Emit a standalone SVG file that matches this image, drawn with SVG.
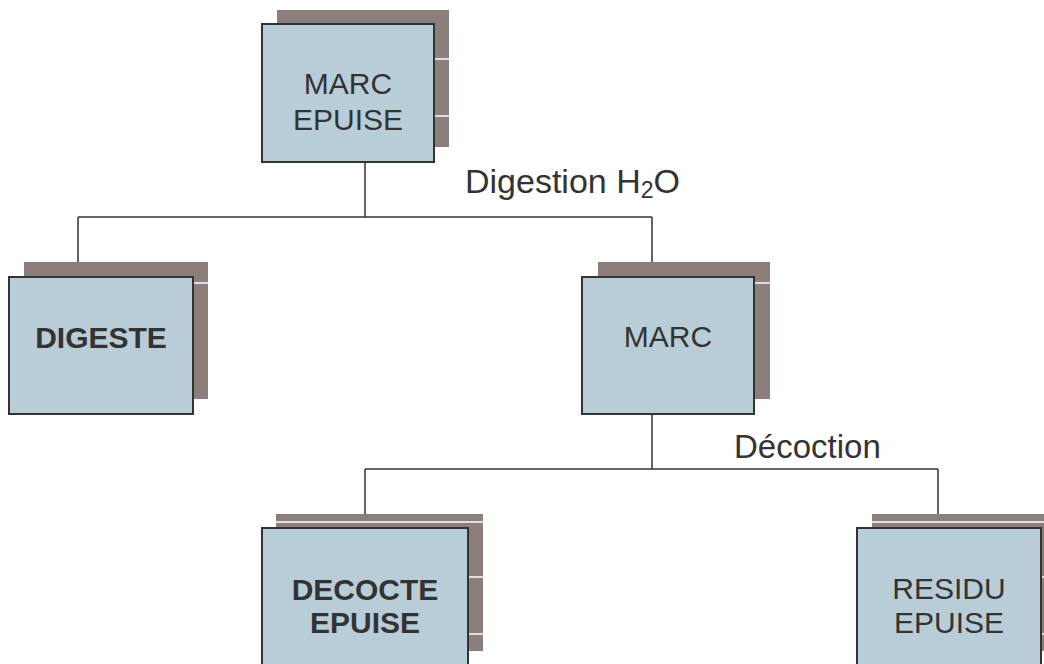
<svg xmlns="http://www.w3.org/2000/svg" width="1044" height="664" viewBox="0 0 1044 664">
<style>
.sh{fill:#8c7e7a}
.bx{fill:#b9cdd8;stroke:#333333;stroke-width:2}
.wl{stroke:#ffffff;stroke-width:1.5}
.t{font-family:"Liberation Sans",Arial,sans-serif;font-size:30px;fill:#333333;text-anchor:middle}
.b{font-weight:bold}
.lab{font-family:"Liberation Sans",Arial,sans-serif;font-size:33px;fill:#333333}
.c{stroke:#333333;stroke-width:1.5;fill:none}
</style>
<rect width="1044" height="664" fill="#ffffff"/>
<g id="connectors">
<path class="c" d="M365 162 V217 M78 217 H652 M78 217 V277 M652 217 V277"/>
<path class="c" d="M652 414 V469 M365 469 H938 M365 469 V528 M938 469 V528"/>
</g>
<g id="n1">
<rect class="sh" x="277" y="10" width="172" height="137"/>
<line class="wl" x1="434" y1="59" x2="449" y2="59"/>
<line class="wl" x1="434" y1="116" x2="449" y2="116"/>
<rect class="bx" x="262" y="24" width="172" height="138"/>
<text class="t" x="348" y="94">MARC</text>
<text class="t" x="348" y="130">EPUISE</text>
</g>
<g id="n2">
<rect class="sh" x="24" y="262" width="184" height="137"/>
<line class="wl" x1="193" y1="283" x2="208" y2="283"/>
<rect class="bx" x="9" y="277" width="184" height="137"/>
<text class="t b" x="101" y="348">DIGESTE</text>
</g>
<g id="n3">
<rect class="sh" x="598" y="262" width="172" height="137"/>
<line class="wl" x1="754" y1="283" x2="770" y2="283"/>
<rect class="bx" x="582" y="277" width="172" height="137"/>
<text class="t" x="668" y="347">MARC</text>
</g>
<g id="n4">
<rect class="sh" x="276" y="514" width="207" height="137"/>
<line class="wl" x1="276" y1="522" x2="483" y2="522"/>
<line class="wl" x1="468" y1="577" x2="483" y2="577"/>
<line class="wl" x1="468" y1="634" x2="483" y2="634"/>
<rect class="bx" x="262" y="528" width="206" height="150"/>
<text class="t b" x="365" y="600">DECOCTE</text>
<text class="t b" x="365" y="633">EPUISE</text>
</g>
<g id="n5">
<rect class="sh" x="872" y="514" width="172" height="137"/>
<line class="wl" x1="872" y1="522" x2="1044" y2="522"/>
<line class="wl" x1="1041" y1="577" x2="1044" y2="577"/>
<line class="wl" x1="1041" y1="634" x2="1044" y2="634"/>
<rect class="bx" x="857" y="528" width="184" height="150"/>
<text class="t" x="949" y="599">RESIDU</text>
<text class="t" x="949" y="633">EPUISE</text>
</g>
<g id="labels">
<text class="lab" x="465" y="193" style="font-size:34px">Digestion H<tspan style="font-size:23px" dy="5">2</tspan><tspan dy="-5">O</tspan></text>
<text class="lab" x="734" y="458">Décoction</text>
</g>
</svg>
